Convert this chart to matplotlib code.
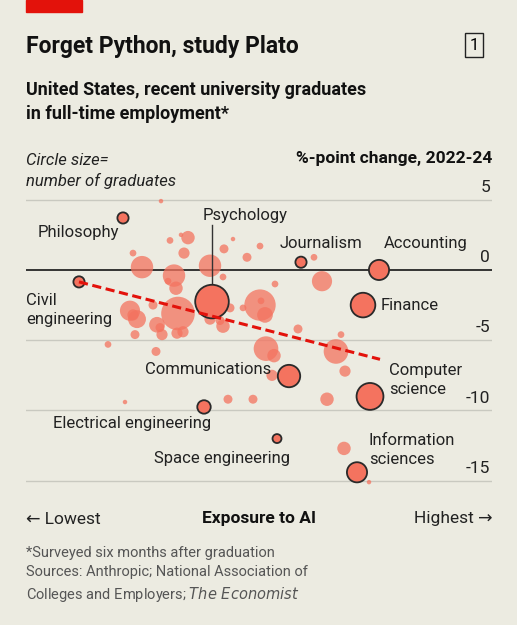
import matplotlib
matplotlib.use("Agg")
import matplotlib.pyplot as plt
import numpy as np

plt.rcParams['font.family'] = ['Roboto', 'DejaVu Sans']

W, H = 517, 625
BG = "#ecebe1"
RED = "#f4735f"

# highlighted majors: name, exposure (px scale), change (pp), radius (px)
names = ["Philosophy", "Psychology", "Journalism", "Accounting", "Civil engineering",
         "Finance", "Communications", "Computer science", "Electrical engineering",
         "Space engineering", "Information sciences"]
hx = [123, 212, 301, 379, 79, 363, 289, 370, 204, 277, 357]
hy = [3.7, -2.25, 0.55, 0.0, -0.85, -2.5, -7.55, -9.0, -9.75, -12.0, -14.4]
hr = [5, 15, 5, 9, 5, 11, 10, 12, 6, 4, 9]

# other majors
ox = [161, 188, 181, 170, 184, 224, 233, 260, 247, 314, 133, 142, 174, 176, 168, 210,
      223, 275, 322, 260, 265, 261, 243, 230, 130, 137, 153, 133, 178, 157, 160, 162,
      177, 183, 210, 220, 223, 135, 108, 156, 298, 341, 336, 266, 274, 345, 272, 125,
      228, 253, 327, 344, 369, 359]
oy = [4.9, 2.3, 2.5, 2.1, 1.2, 1.5, 2.2, 1.7, 0.9, 0.9, 1.2, 0.2, -0.4, -1.3, -0.8, 0.3,
      -0.5, -1.0, -0.8, -2.5, -3.2, -2.2, -2.7, -2.7, -2.9, -3.5, -2.5, -3.2, -3.1, -3.9,
      -4.1, -4.6, -4.5, -4.4, -3.5, -3.6, -4.0, -4.6, -5.3, -5.8, -4.2, -4.6, -5.8, -5.6,
      -6.1, -7.2, -7.5, -9.4, -9.2, -9.2, -9.2, -12.7, -15.1, -2.6]
orr = [2, 6, 2, 3, 5, 4, 2, 3, 4, 3, 3, 10, 10, 6, 3, 10, 3, 3, 9, 14, 7, 3, 3, 4, 9, 8,
       4, 5, 15, 7, 4, 5, 5, 5, 5, 4, 6, 4, 3, 4, 4, 3, 11, 11, 6, 5, 5, 2, 4, 4, 6, 6, 2, 3]

trend_x = [79, 380]
trend_y = [-0.85, -6.36]

yticks = [5, 0, -5, -10, -15]


def px2s(r):
    return (2 * r * 0.72 * 1.12) ** 2


fig = plt.figure(figsize=(W / 100, H / 100), dpi=100, facecolor=BG)
ax = fig.add_axes([26 / W, 1 - 490 / H, 466 / W, 300 / H], facecolor=BG)
ax.set_xlim(26, 492)
ax.set_ylim(-15.66, 5.69)
for s in ax.spines.values():
    s.set_visible(False)
ax.set_xticks([])
ax.set_yticks([])

for t in yticks:
    if t == 0:
        ax.axhline(t, color="#333333", lw=1.4, zorder=1)
    else:
        ax.axhline(t, color="#c9c9c0", lw=1, zorder=0)
    ax.text(490, t + 0.35, str(t), ha="right", va="bottom",
            fontsize=12.5, color="#222222")

ax.scatter(ox, oy, s=[px2s(r) for r in orr], color=RED, alpha=0.75, lw=0, zorder=2)
# psychology leader line
ax.plot([212, 212], [-2.25, 3.2], color="#333333", lw=1, zorder=3)
ax.scatter(hx, hy, s=[px2s(r) for r in hr], color=RED, edgecolor="#2a2a2a", lw=1.3, zorder=4)
ax.plot(trend_x, trend_y, color="#e3120b", lw=2.2, ls=(0, (3, 1.5)), zorder=5)

lab = dict(fontsize=12, color="#222222", va="center", linespacing=1.3)
ax.text(38, 2.7, "Philosophy", **lab)
ax.text(203, 3.9, "Psychology", **lab)
ax.text(280, 1.85, "Journalism", **lab)
ax.text(384, 1.85, "Accounting", **lab)
ax.text(26, -2.85, "Civil\nengineering", **lab)
ax.text(381, -2.55, "Finance", **lab)
ax.text(145, -7.1, "Communications", **lab)
ax.text(389, -7.85, "Computer\nscience", **lab)
ax.text(53, -10.9, "Electrical engineering", **lab)
ax.text(154, -13.45, "Space engineering", **lab)
ax.text(369, -12.8, "Information\nsciences", **lab)


def ft(x, y, s, **kw):
    fig.text(x / W, 1 - y / H, s, **kw)


fig.patches.append(plt.Rectangle((26 / W, 1 - 12 / H), 56 / W, 12 / H,
                                 transform=fig.transFigure, color="#e3120b"))
ft(26, 47, "Forget Python, study Plato", fontsize=16.5, fontweight="bold", va="center", color="#111111")
ft(474, 45, "1", fontsize=12, va="center", ha="center",
   bbox=dict(boxstyle="square,pad=0.25", fc=BG, ec="#222222", lw=1))
ft(26, 102, "United States, recent university graduates\nin full-time employment*", fontsize=13,
   fontweight="semibold", va="center", linespacing=1.4, color="#111111")
ft(26, 171, "Circle size=\nnumber of graduates", fontsize=12, style="italic", va="center",
   linespacing=1.4, color="#222222")
ft(492, 158, "%-point change, 2022-24", fontsize=12.5, fontweight="bold", ha="right", va="center",
   color="#111111")
ft(26, 519, "\u2190 Lowest", fontsize=12.5, va="center", color="#222222")
ft(259, 519, "Exposure to AI", fontsize=12.5, fontweight="bold", ha="center", va="center", color="#111111")
ft(492, 519, "Highest \u2192", fontsize=12.5, ha="right", va="center", color="#222222")
ft(26, 575, "*Surveyed six months after graduation\nSources: Anthropic; National Association of\n"
   "Colleges and Employers; $\\it{The\\ Economist}$", fontsize=10.5, va="center",
   linespacing=1.45, color="#555555")

fig.savefig("out.png", dpi=100, facecolor=BG)
